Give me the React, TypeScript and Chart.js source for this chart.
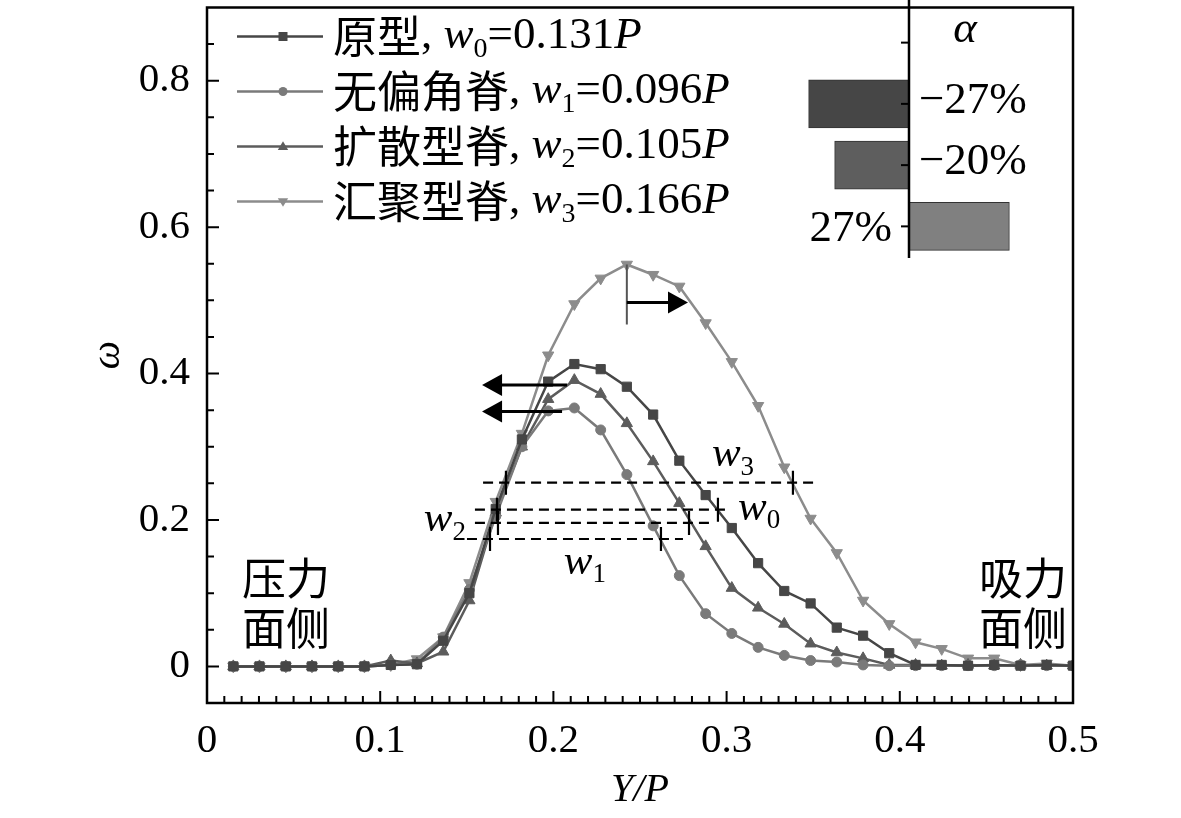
import { useEffect, useRef } from "react";
import { Chart, registerables } from "chart.js";

Chart.register(...registerables);

const SERIF = '"Liberation Serif", "Times New Roman", serif';
const CJK = '"Noto Sans CJK SC", sans-serif';

// Y/P sample positions
const xPos = [
  0.0152, 0.0303, 0.0455, 0.0606, 0.0758, 0.0909, 0.1061, 0.1212, 0.1364, 0.1515, 0.1667,
  0.1818, 0.197, 0.2121, 0.2273, 0.2424, 0.2576, 0.2727, 0.2879, 0.303, 0.3182, 0.3333,
  0.3485, 0.3636, 0.3788, 0.3939, 0.4091, 0.4242, 0.4394, 0.4545, 0.4697, 0.4848, 0.5,
];

// omega for each ridge type
const proto = [
  0, 0, 0, 0, 0, 0, 0.002, 0.003, 0.035, 0.1, 0.215, 0.31, 0.389, 0.413, 0.406, 0.382, 0.344,
  0.281, 0.234, 0.189, 0.141, 0.103, 0.086, 0.053, 0.042, 0.018, 0.002, 0.002, 0.001, 0.002,
  0.001, 0.002, 0.001,
];
const noSkew = [
  0, 0, 0, 0, 0, 0, 0.002, 0.003, 0.04, 0.105, 0.205, 0.3, 0.349, 0.353, 0.323, 0.262, 0.192,
  0.124, 0.072, 0.045, 0.026, 0.015, 0.008, 0.006, 0.002, 0.001, 0.001, 0.001, 0.001, 0.001,
  0.002, 0.001, 0.001,
];
const diverge = [
  0, 0, 0, 0, 0, 0, 0.008, 0.004, 0.02, 0.09, 0.21, 0.3, 0.365, 0.391, 0.372, 0.332, 0.28,
  0.223, 0.164, 0.107, 0.08, 0.058, 0.031, 0.019, 0.011, 0.002, 0.002, 0.001, 0.002, 0.001,
  0.002, 0.001, 0.001,
];
const converge = [
  0, 0, 0, 0, 0, 0, 0.002, 0.01, 0.04, 0.114, 0.225, 0.318, 0.425, 0.495, 0.53, 0.549, 0.535,
  0.519, 0.469, 0.416, 0.356, 0.272, 0.202, 0.155, 0.09, 0.058, 0.033, 0.024, 0.011, 0.011,
  0.002, 0.004, 0.001,
];

const seriesNames = ["原型", "无偏角脊", "扩散型脊", "汇聚型脊"];
const widthText = ["0.131", "0.096", "0.105", "0.166"];
const seriesColors = ["#464646", "#7a7a7a", "#5c5c5c", "#8c8c8c"];
const seriesMarks = ["rect", "circle", "up", "down"];

const xTickValues = [0, 0.1, 0.2, 0.3, 0.4, 0.5];
const xTickLabels = ["0", "0.1", "0.2", "0.3", "0.4", "0.5"];
const yTickValues = [0, 0.2, 0.4, 0.6, 0.8];
const yTickLabels = ["0", "0.2", "0.4", "0.6", "0.8"];

// half-width (w0..w3) markers
const halfLevels = [0.214, 0.174, 0.196, 0.251];
const halfLeft = [0.1674, 0.1634, 0.168, 0.1726];
const halfRight = [0.295, 0.2621, 0.2783, 0.3383];
const dashFrom = [0.1547, 0.1501, 0.1547, 0.1594];
const dashTo = [0.3008, 0.2748, 0.2921, 0.3516];

// inset: change of width
const alphaLabels = ["α", "−27%", "−20%", "27%"];
const alphaValues = [null, -27, -20, 27];
const alphaColors = ["#000", "#464646", "#5e5e5e", "#808080"];

type Seg = { t: string; it?: boolean; sub?: boolean; cjk?: boolean };

function drawRich(ctx: any, segs: Seg[], x: number, y: number, size: number, align = "left") {
  const fonts = segs.map((s) =>
    s.cjk
      ? `${Math.round(size * 0.97)}px ${CJK}`
      : `${s.it ? "italic " : ""}${s.sub ? Math.round(size * 0.62) : size}px ${SERIF}`
  );
  const ws = segs.map((s, i) => {
    ctx.font = fonts[i];
    return ctx.measureText(s.t).width;
  });
  const total = ws.reduce((a, b) => a + b, 0);
  let cx = align === "right" ? x - total : align === "center" ? x - total / 2 : x;
  ctx.textAlign = "left";
  ctx.textBaseline = "middle";
  segs.forEach((s, i) => {
    ctx.font = fonts[i];
    ctx.fillText(s.t, cx, s.sub ? y + size * 0.3 : y);
    cx += ws[i];
  });
}

function mark(ctx: any, kind: string, x: number, y: number, r: number) {
  ctx.beginPath();
  if (kind === "rect") ctx.rect(x - r, y - r, 2 * r, 2 * r);
  else if (kind === "circle") ctx.arc(x, y, r, 0, Math.PI * 2);
  else if (kind === "up") {
    ctx.moveTo(x, y - r * 1.15);
    ctx.lineTo(x + r * 1.15, y + r * 0.75);
    ctx.lineTo(x - r * 1.15, y + r * 0.75);
    ctx.closePath();
  } else {
    ctx.moveTo(x, y + r * 1.15);
    ctx.lineTo(x + r * 1.15, y - r * 0.75);
    ctx.lineTo(x - r * 1.15, y - r * 0.75);
    ctx.closePath();
  }
  ctx.fill();
}

function arrow(ctx: any, x1: number, x2: number, y: number) {
  const dir = Math.sign(x2 - x1);
  ctx.beginPath();
  ctx.moveTo(x1, y);
  ctx.lineTo(x2 - dir * 18, y);
  ctx.stroke();
  ctx.beginPath();
  ctx.moveTo(x2, y);
  ctx.lineTo(x2 - dir * 20, y - 11);
  ctx.lineTo(x2 - dir * 20, y + 11);
  ctx.closePath();
  ctx.fill();
}

const decorPlugin = {
  id: "decor",
  afterDraw(chart: any) {
    const { ctx, chartArea: a, scales } = chart;
    const px = (v: number) => scales.x.getPixelForValue(v);
    const py = (v: number) => scales.y.getPixelForValue(v);
    ctx.save();

    // frame + inward ticks
    ctx.strokeStyle = "#000";
    ctx.lineWidth = 2.5;
    ctx.strokeRect(a.left, a.top, a.right - a.left, a.bottom - a.top);
    ctx.lineWidth = 2;
    ctx.beginPath();
    for (let i = 1; i < 50; i++) {
      const x = px(i / 100);
      ctx.moveTo(x, a.bottom);
      ctx.lineTo(x, a.bottom - (i % 10 === 0 ? 12 : 7));
    }
    for (let i = 0; i < 18; i++) {
      const y = py(i * 0.05);
      ctx.moveTo(a.left, y);
      ctx.lineTo(a.left + (i % 4 === 0 ? 12 : 7), y);
    }
    ctx.stroke();

    // legend
    seriesNames.forEach((name, i) => {
      const y = a.top + 29 + i * 55;
      ctx.strokeStyle = seriesColors[i];
      ctx.lineWidth = 2.5;
      ctx.beginPath();
      ctx.moveTo(a.left + 30, y);
      ctx.lineTo(a.left + 116, y);
      ctx.stroke();
      ctx.fillStyle = seriesColors[i];
      mark(ctx, seriesMarks[i], a.left + 76, y, 4.5);
      ctx.fillStyle = "#000";
      drawRich(
        ctx,
        [
          { t: name, cjk: true },
          { t: ", " },
          { t: "w", it: true },
          { t: String(i), sub: true },
          { t: "=" + widthText[i] },
          { t: "P", it: true },
        ],
        a.left + 126,
        y,
        45
      );
    });

    // shift arrows
    ctx.strokeStyle = "#555";
    ctx.lineWidth = 2;
    ctx.beginPath();
    ctx.moveTo(px(0.2424), py(0.549));
    ctx.lineTo(px(0.2424), py(0.467));
    ctx.stroke();
    ctx.strokeStyle = "#000";
    ctx.fillStyle = "#000";
    ctx.lineWidth = 3;
    arrow(ctx, px(0.2424), px(0.2777), py(0.497));
    arrow(ctx, px(0.2079), px(0.1588), py(0.3845));
    arrow(ctx, px(0.205), px(0.1588), py(0.348));

    // half-width dashes
    halfLevels.forEach((lv, i) => {
      const y = py(lv);
      ctx.lineWidth = 2.2;
      ctx.setLineDash([10, 6]);
      ctx.beginPath();
      ctx.moveTo(px(dashFrom[i]), y);
      ctx.lineTo(px(dashTo[i]), y);
      ctx.stroke();
      ctx.setLineDash([]);
      ctx.beginPath();
      [halfLeft[i], halfRight[i]].forEach((v) => {
        ctx.moveTo(px(v), y - 12);
        ctx.lineTo(px(v), y + 12);
      });
      ctx.stroke();
    });
    const wl = (n: string): Seg[] => [{ t: "w", it: true }, { t: n, sub: true }];
    drawRich(ctx, wl("0"), px(0.3066), py(0.216), 43, "left");
    drawRich(ctx, wl("1"), px(0.2182), py(0.142), 43, "center");
    drawRich(ctx, wl("2"), px(0.1495), py(0.2), 43, "right");
    drawRich(ctx, wl("3"), px(0.3037), py(0.289), 43, "center");

    // side notes
    ctx.fillStyle = "#000";
    ctx.font = `44px ${CJK}`;
    ctx.textBaseline = "middle";
    ctx.textAlign = "left";
    ctx.fillText("压力", a.left + 35, a.bottom - 125);
    ctx.fillText("面侧", a.left + 35, a.bottom - 75);
    ctx.textAlign = "right";
    ctx.fillText("吸力", a.right - 6, a.bottom - 125);
    ctx.fillText("面侧", a.right - 6, a.bottom - 75);
    ctx.restore();
  },
};

const insetPlugin = {
  id: "inset",
  afterDraw(chart: any) {
    const { ctx, chartArea: a, scales } = chart;
    const x0 = scales.x.getPixelForValue(0);
    ctx.save();
    ctx.strokeStyle = "#000";
    ctx.lineWidth = 2.5;
    ctx.beginPath();
    ctx.moveTo(x0, 0);
    ctx.lineTo(x0, a.bottom + 1);
    ctx.stroke();
    ctx.lineWidth = 2;
    ctx.fillStyle = "#000";
    ctx.textBaseline = "middle";
    alphaLabels.forEach((lab, i) => {
      const y = scales.y.getPixelForValue(i);
      ctx.beginPath();
      ctx.moveTo(x0 - 8, y);
      ctx.lineTo(x0, y);
      ctx.stroke();
      const v = alphaValues[i];
      if (v === null) {
        ctx.font = `italic 45px ${SERIF}`;
        ctx.textAlign = "center";
        ctx.fillText(lab, x0 + 56, y - 12);
      } else if (v < 0) {
        ctx.font = `45px ${SERIF}`;
        ctx.textAlign = "left";
        ctx.fillText(lab, x0 + 10, y - 3);
      } else {
        ctx.font = `45px ${SERIF}`;
        ctx.textAlign = "right";
        ctx.fillText(lab, x0 - 17, y + 3);
      }
    });
    ctx.restore();
  },
};

function MainChart() {
  const ref = useRef<HTMLCanvasElement>(null);
  useEffect(() => {
    if (!ref.current) return;
    const series = [proto, noSkew, diverge, converge];
    const radii = [6.5, 5, 6.5, 6.5];
    const chart = new Chart(ref.current, {
      type: "line",
      data: {
        datasets: series.map((s, i) => ({
          label: seriesNames[i],
          data: xPos.map((x, j) => ({ x, y: s[j] })),
          borderColor: seriesColors[i],
          backgroundColor: seriesColors[i],
          pointBackgroundColor: seriesColors[i],
          pointBorderColor: seriesColors[i],
          borderWidth: 2.5,
          pointBorderWidth: 1,
          pointStyle: seriesMarks[i] === "rect" ? "rect" : seriesMarks[i] === "circle" ? "circle" : "triangle",
          pointRotation: seriesMarks[i] === "down" ? 180 : 0,
          pointRadius: radii[i],
          tension: 0,
        })),
      },
      options: {
        responsive: false,
        animation: false,
        layout: { padding: { top: 4, right: 108, left: 0, bottom: 0 } },
        plugins: { legend: { display: false }, tooltip: { enabled: false } },
        scales: {
          x: {
            type: "linear",
            min: 0,
            max: 0.5,
            afterBuildTicks: (s: any) => {
              s.ticks = xTickValues.map((value) => ({ value }));
            },
            afterFit: (s: any) => {
              s.height = 115;
              s.paddingLeft = 0;
              s.paddingRight = 0;
            },
            grid: { display: false, drawTicks: false },
            border: { display: false },
            ticks: {
              padding: 14,
              color: "#000",
              font: { family: SERIF, size: 41 },
              callback: (_v: any, i: number) => xTickLabels[i],
            },
            title: {
              display: true,
              text: "Y/P",
              color: "#000",
              font: { family: SERIF, size: 40, style: "italic" },
              padding: { top: 0, bottom: 4 },
            },
          },
          y: {
            min: -0.05,
            max: 0.9,
            afterBuildTicks: (s: any) => {
              s.ticks = yTickValues.map((value) => ({ value }));
            },
            afterFit: (s: any) => {
              s.width = 207;
              s.paddingTop = 0;
              s.paddingBottom = 0;
            },
            grid: { display: false, drawTicks: false },
            border: { display: false },
            ticks: {
              padding: 17,
              color: "#000",
              font: { family: SERIF, size: 41 },
              callback: (_v: any, i: number) => yTickLabels[i],
            },
            title: {
              display: true,
              text: "ω",
              color: "#000",
              font: { family: SERIF, size: 40, style: "italic" },
              padding: { top: 84, bottom: 0 },
            },
          },
        },
      } as any,
      plugins: [decorPlugin],
    });
    return () => chart.destroy();
  }, []);
  return <canvas ref={ref} width={1181} height={818} style={{ position: "absolute", left: 0, top: 0 }} />;
}

function AlphaInset() {
  const ref = useRef<HTMLCanvasElement>(null);
  useEffect(() => {
    if (!ref.current) return;
    const chart = new Chart(ref.current, {
      type: "bar",
      data: {
        labels: alphaLabels,
        datasets: [
          {
            data: alphaValues as any,
            backgroundColor: alphaColors,
            borderColor: "#333",
            borderWidth: 1,
            borderSkipped: false,
            barThickness: 48,
          },
        ],
      },
      options: {
        indexAxis: "y",
        responsive: false,
        animation: false,
        layout: { padding: { top: 12, bottom: 13, left: 0, right: 0 } },
        plugins: { legend: { display: false }, tooltip: { enabled: false } },
        scales: {
          x: { display: false, min: -34.7, max: 46 },
          y: { display: false },
        },
      } as any,
      plugins: [insetPlugin],
    });
    return () => chart.destroy();
  }, []);
  return <canvas ref={ref} width={300} height={270} style={{ position: "absolute", left: 780, top: 0 }} />;
}

export default function App() {
  return (
    <div style={{ position: "absolute", left: 0, top: 0, width: 1181, height: 818, background: "#fff" }}>
      <MainChart />
      <AlphaInset />
    </div>
  );
}
